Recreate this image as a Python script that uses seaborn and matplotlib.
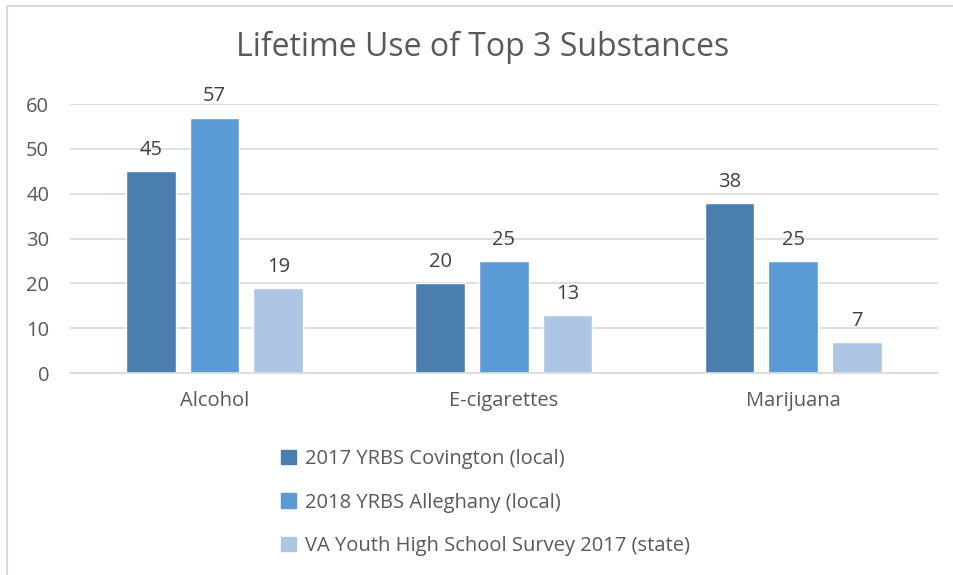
import pandas as pd
import seaborn as sns
import matplotlib.pyplot as plt
from matplotlib.lines import Line2D

substances = ['Alcohol', 'E-cigarettes', 'Marijuana']
series = ['2017 YRBS Covington (local)', '2018 YRBS Alleghany (local)',
          'VA Youth High School Survey 2017 (state)']
covington = [45, 20, 38]
alleghany = [57, 25, 25]
va_state = [19, 13, 7]
colors = ['#4A7EAF', '#5B9BD5', '#ADC6E5']

df = pd.DataFrame({
    'substance': substances * 3,
    'survey': [series[0]] * 3 + [series[1]] * 3 + [series[2]] * 3,
    'value': covington + alleghany + va_state,
})

sns.set_style('white')
plt.rcParams['font.family'] = ['Open Sans', 'DejaVu Sans']
txt = '#595959'

fig = plt.figure(figsize=(9.54, 5.75), dpi=100)
ax = fig.add_axes([0.0734, 0.3513, 0.9096, 0.4677])

sns.barplot(data=df, x='substance', y='value', hue='survey', palette=colors,
            saturation=1, width=0.66, gap=0.22, ax=ax, legend=False)

for c in ax.containers:
    ax.bar_label(c, fmt='%d', padding=8, fontsize=14.5, color='#404040')

ax.set_xlim(-0.5, 2.5)
ax.set_ylim(0, 60)
ax.set_yticks(range(0, 61, 10))
ax.yaxis.grid(True, color='#D9D9D9', linewidth=1.2)
ax.set_axisbelow(True)
for s in ['top', 'right', 'left']:
    ax.spines[s].set_visible(False)
ax.spines['bottom'].set_color('#D9D9D9')
ax.spines['bottom'].set_linewidth(1.2)
ax.tick_params(axis='both', length=0, labelsize=14.5, colors=txt)
ax.tick_params(axis='x', pad=13)
ax.tick_params(axis='y', pad=15)
ax.set_xlabel('')
ax.set_ylabel('')

fig.text(0.506, 0.917, 'Lifetime Use of Top 3 Substances', ha='center', va='center',
         fontsize=23, color=txt)

handles = [plt.Rectangle((0, 0), 1, 1, color=c) for c in colors]
fig.legend(handles, series, loc='upper left', bbox_to_anchor=(0.276, 0.25),
           frameon=False, fontsize=14.5, labelcolor=txt, handlelength=0.7,
           handleheight=0.7, handletextpad=0.45, labelspacing=1.15)

# chart border (top and left edges visible)
fig.add_artist(Line2D([7 / 954, 7 / 954], [0, 1 - 6 / 575], color='#D9D9D9', lw=1.5,
                      transform=fig.transFigure))
fig.add_artist(Line2D([7 / 954, 1], [1 - 6 / 575, 1 - 6 / 575], color='#D9D9D9', lw=1.5,
                      transform=fig.transFigure))

plt.savefig('out.png', dpi=100)
